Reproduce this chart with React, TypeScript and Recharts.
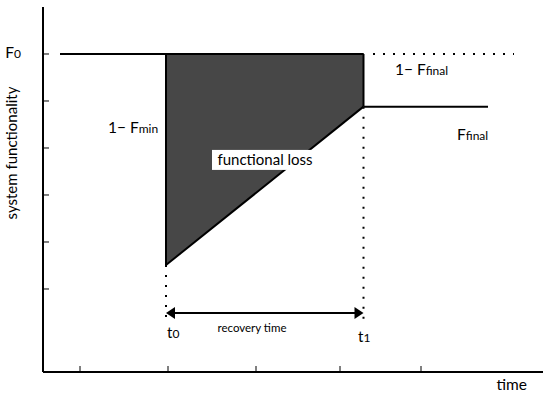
import React from 'react';
import { ComposedChart, Line, Area, Scatter, XAxis, YAxis, ReferenceLine } from 'recharts';

const FONT = 'Lato, "Open Sans", sans-serif';

// time runs 0-100, functionality axis is scaled so F0 = 1
const timeTicks = [7.4, 25, 42.6, 59.4, 75.6];
const levelTicks = [0.5, 0.6, 0.7, 0.8, 0.9, 1.0];

const F0 = 1.0;
const F_MIN = 0.551;
const F_FINAL = 0.888;
const T0 = 24.6;
const T1 = 64.1;
const ARROW_F = 0.449;

const preEvent = [{ t: 3.4, f: F0 }, { t: T1, f: F0 }];
const postRecovery = [{ t: T1, f: F_FINAL }, { t: 89, f: F_FINAL }];
const targetLevel = [{ t: 66, f: F0 }, { t: 94.2, f: F0 }];
const lossArea = [
  { t: T0, range: [F_MIN, F0] },
  { t: T1, range: [F_FINAL, F0] },
];
const t0Guide = [{ x: T0, y: F_MIN }, { x: T0, y: 0.438 }];
const t1Guide = [{ x: T1, y: F_FINAL }, { x: T1, y: 0.423 }];
const arrowShaft = [{ x: T0 + 1, y: ARROW_F }, { x: T1 - 1, y: ARROW_F }];
const arrowHeads = [
  { t: T0, f: ARROW_F, dir: -1 },
  { t: T1, f: ARROW_F, dir: 1 },
];

// annotation text, anchored at its baseline
const notes = [
  { t: 13, f: 0.832, main: '1\u2212 F', sub: 'min', anchor: 'start', size: 15.5 },
  { t: 70.4, f: 0.955, main: '1\u2212 F', sub: 'final', anchor: 'start', size: 15.5 },
  { t: 82.8, f: 0.817, main: 'F', sub: 'final', anchor: 'start', size: 15.5 },
  { t: 44.4, f: 0.764, main: 'functional loss', sub: '', anchor: 'middle', size: 15, box: true },
  { t: 41.8, f: 0.409, main: 'recovery time', sub: '', anchor: 'middle', size: 11.5 },
  { t: 24.8, f: 0.396, main: 't', sub: '0', anchor: 'start', size: 15 },
  { t: 63, f: 0.388, main: 't', sub: '1', anchor: 'start', size: 15 },
];

const NoteShape = (props: any) => {
  const { cx, cy, payload } = props;
  return (
    <g>
      {payload.box && <rect x={cx - 53} y={cy - 15} width={106} height={20} fill="#fff" />}
      <text x={cx} y={cy} textAnchor={payload.anchor} fontFamily={FONT} fontSize={payload.size} fill="#000">
        {payload.main}
        {payload.sub && <tspan fontSize={12}>{payload.sub}</tspan>}
      </text>
    </g>
  );
};

const ArrowHead = (props: any) => {
  const { cx, cy, payload } = props;
  const d = payload.dir;
  return <path d={`M${cx},${cy} L${cx - d * 9},${cy - 6} L${cx - d * 9},${cy + 6} Z`} fill="#000" />;
};

const LevelTick = (props: any) => {
  const { x, y, payload } = props;
  if (payload.value !== F0) return <g />;
  return (
    <text x={x} y={y + 4} textAnchor="end" fontFamily={FONT} fontSize={15.5} fill="#000">
      F<tspan fontSize={12}>0</tspan>
    </text>
  );
};

const NoTick = () => <g />;

export default function App() {
  return (
    <div style={{ position: 'absolute', left: 0, top: 0 }}>
      <ComposedChart width={550} height={397} margin={{ top: 7, right: 7, bottom: 0, left: 0 }}>
        <XAxis
          dataKey="t"
          type="number"
          domain={[0, 100]}
          ticks={timeTicks}
          allowDataOverflow
          height={25}
          tick={NoTick}
          tickSize={-6}
          axisLine={{ stroke: '#000', strokeWidth: 2 }}
          tickLine={{ stroke: '#000', strokeWidth: 1 }}
          label={{
            content: (p: any) => (
              <text x={p.viewBox.x + p.viewBox.width - 16} y={p.viewBox.y + 18} textAnchor="end" fontFamily={FONT} fontSize={15.5} fill="#000">
                time
              </text>
            ),
          }}
        />
        <YAxis
          type="number"
          domain={[0.3234, 1.1]}
          ticks={levelTicks}
          allowDataOverflow
          width={43}
          tickSize={-6}
          tickMargin={28}
          tick={LevelTick}
          axisLine={{ stroke: '#000', strokeWidth: 2 }}
          tickLine={{ stroke: '#000', strokeWidth: 1 }}
          label={{
            content: (p: any) => (
              <text
                x={p.viewBox.x + 17}
                y={p.viewBox.y + 146}
                transform={`rotate(-90 ${p.viewBox.x + 17} ${p.viewBox.y + 146})`}
                textAnchor="middle"
                fontFamily={FONT}
                fontSize={15}
                fill="#000"
              >
                system functionality
              </text>
            ),
          }}
        />
        <Area
          data={lossArea}
          dataKey="range"
          type="linear"
          stroke="#000"
          strokeWidth={2}
          fill="#474747"
          fillOpacity={1}
          dot={false}
          activeDot={false}
          isAnimationActive={false}
        />
        <ReferenceLine segment={[{ x: T0, y: F_MIN }, { x: T0, y: F0 }]} stroke="#000" strokeWidth={2} />
        <ReferenceLine segment={[{ x: T1, y: F_FINAL }, { x: T1, y: F0 }]} stroke="#000" strokeWidth={2} />
        <Line data={preEvent} dataKey="f" type="linear" stroke="#000" strokeWidth={2} dot={false} activeDot={false} isAnimationActive={false} />
        <Line data={postRecovery} dataKey="f" type="linear" stroke="#000" strokeWidth={2} dot={false} activeDot={false} isAnimationActive={false} />
        <Line data={targetLevel} dataKey="f" type="linear" stroke="#000" strokeWidth={2} strokeDasharray="2 8" dot={false} activeDot={false} isAnimationActive={false} />
        <ReferenceLine segment={t0Guide} stroke="#000" strokeWidth={2} strokeDasharray="2 8" />
        <ReferenceLine segment={t1Guide} stroke="#000" strokeWidth={2} strokeDasharray="2 8" />
        <ReferenceLine segment={arrowShaft} stroke="#000" strokeWidth={2} />
        <Scatter data={arrowHeads} dataKey="f" shape={ArrowHead} isAnimationActive={false} />
        <Scatter data={notes} dataKey="f" shape={NoteShape} isAnimationActive={false} />
      </ComposedChart>
    </div>
  );
}
